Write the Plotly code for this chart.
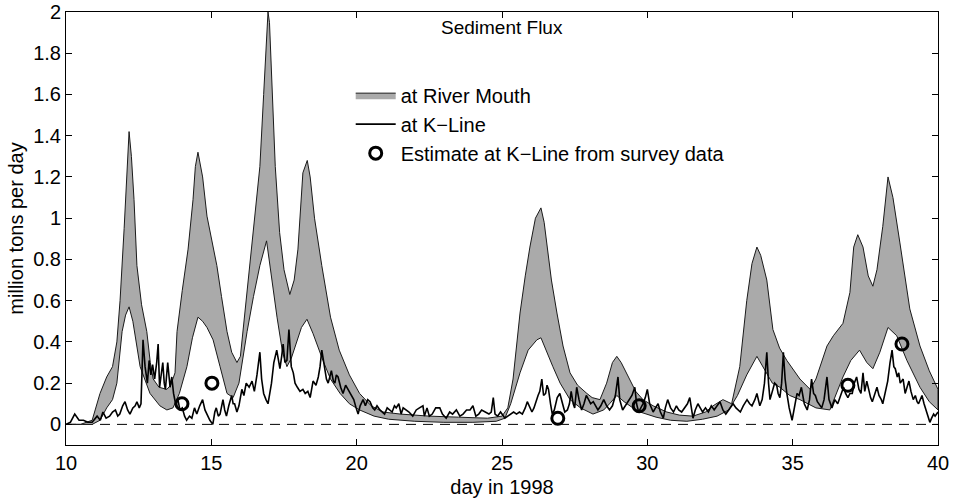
import plotly.graph_objects as go

# River mouth band: upper and lower envelopes
upper_x = [10.0, 10.5, 10.9, 11.17, 11.4, 11.6, 11.75, 11.86, 12.0, 12.1, 12.17, 12.25, 12.34, 12.44, 12.6, 12.78,
           12.9, 13.0, 13.2, 13.47, 13.6, 13.75, 13.82, 14.0, 14.2, 14.37, 14.45, 14.54, 14.6, 14.7, 14.85, 15.0,
           15.19, 15.35, 15.54, 15.7, 15.88, 16.0, 16.2, 16.43, 16.67, 16.8, 16.9, 16.95, 17.0, 17.1, 17.2, 17.35,
           17.5, 17.7, 17.85, 17.98, 18.15, 18.3, 18.4, 18.55, 18.8, 19.1, 19.4, 19.75, 20.1, 20.5, 20.9, 21.5,
           22.5, 23.5, 24.5, 25.0, 25.2, 25.38, 25.62, 25.8, 25.96, 26.15, 26.34, 26.45, 26.55, 26.7, 26.89, 27.1,
           27.34, 27.6, 27.92, 28.1, 28.37, 28.6, 28.8, 28.95, 29.1, 29.4, 29.6, 29.85, 30.2, 30.67, 31.1, 31.57,
           32.0, 32.26, 32.6, 32.9, 33.18, 33.42, 33.6, 33.77, 33.9, 34.11, 34.32, 34.55, 34.8, 35.25, 35.6, 35.8,
           36.0, 36.18, 36.4, 36.73, 36.97, 37.1, 37.24, 37.42, 37.6, 37.76, 37.9, 38.1, 38.28, 38.45, 38.69, 39.03,
           39.38, 39.7, 40.0]
upper_y = [0.0, 0.0, 0.02, 0.15, 0.23, 0.28, 0.4, 0.6, 0.95, 1.25, 1.42, 1.3, 1.09, 0.77, 0.58, 0.45,
           0.3, 0.22, 0.18, 0.17, 0.19, 0.25, 0.45, 0.65, 0.85, 1.09, 1.25, 1.32, 1.28, 1.2, 1.01, 0.9,
           0.77, 0.62, 0.45, 0.35, 0.30, 0.33, 0.6, 0.93, 1.25, 1.6, 1.9, 2.0, 1.95, 1.57, 1.25, 0.93,
           0.75, 0.63, 0.7, 0.85, 1.22, 1.28, 1.2, 1.0, 0.77, 0.52, 0.36, 0.24, 0.15, 0.09, 0.06, 0.05,
           0.04, 0.035, 0.03, 0.04, 0.08, 0.22, 0.54, 0.72, 0.86, 1.0, 1.05, 0.98, 0.86, 0.7, 0.54, 0.38,
           0.25, 0.19, 0.15, 0.13, 0.12, 0.2, 0.3, 0.33, 0.3, 0.22, 0.16, 0.12, 0.09, 0.06, 0.045, 0.04,
           0.06, 0.09, 0.12, 0.1, 0.28, 0.6, 0.78, 0.86, 0.82, 0.7, 0.46, 0.37, 0.31, 0.22, 0.17, 0.22,
           0.3, 0.38, 0.43, 0.49, 0.64, 0.86, 0.92, 0.86, 0.72, 0.67, 0.75, 0.96, 1.2, 1.1, 0.88, 0.56,
           0.38, 0.26, 0.17]

lower_x = [10.0, 10.9, 11.17, 11.4, 11.6, 11.75, 11.93, 12.05, 12.17, 12.3, 12.55, 12.89, 13.23, 13.47, 13.68,
           13.9, 14.16, 14.35, 14.54, 14.7, 14.85, 15.06, 15.3, 15.54, 15.75, 15.95, 16.23, 16.45, 16.67, 16.9,
           17.05, 17.26, 17.45, 17.6, 17.75, 17.88, 18.1, 18.29, 18.5, 18.84, 19.1, 19.43, 19.75, 20.1, 20.6,
           21.1, 22.0, 23.0, 24.0, 24.8, 25.1, 25.3, 25.62, 25.9, 26.2, 26.34, 26.5, 26.75, 27.0, 27.34, 27.7,
           28.13, 28.5, 28.7, 28.95, 29.2, 29.5, 29.75, 30.3, 30.8, 31.36, 31.9, 32.4, 32.8, 33.1, 33.42, 33.77,
           34.0, 34.3, 34.56, 34.9, 35.25, 35.8, 36.28, 36.5, 36.73, 37.0, 37.3, 37.55, 37.76, 38.0, 38.28,
           38.58, 38.93, 39.38, 39.7, 40.0]
lower_y = [0.0, 0.0, 0.02, 0.08, 0.12, 0.2, 0.45, 0.53, 0.57, 0.5, 0.28, 0.15, 0.09, 0.07, 0.08,
           0.15, 0.28, 0.42, 0.52, 0.5, 0.47, 0.41, 0.28, 0.15, 0.13, 0.2, 0.45, 0.62, 0.77, 0.89,
           0.75, 0.52, 0.35, 0.28, 0.32, 0.38, 0.47, 0.51, 0.44, 0.31, 0.22, 0.15, 0.1, 0.07, 0.04,
           0.025, 0.015, 0.01, 0.01, 0.015, 0.03, 0.1, 0.25, 0.36, 0.41, 0.42, 0.37, 0.28, 0.2, 0.12, 0.08,
           0.05, 0.07, 0.1, 0.14, 0.11, 0.08, 0.06, 0.035, 0.02, 0.015, 0.025, 0.04, 0.07, 0.14, 0.24, 0.33,
           0.27, 0.2, 0.18, 0.14, 0.12, 0.08, 0.07, 0.15, 0.23, 0.31, 0.36, 0.3, 0.27, 0.35, 0.47,
           0.43, 0.31, 0.18, 0.11, 0.07]

# Flux at K-Line
kline_x = [10.0, 10.15, 10.3, 10.45, 10.6, 10.75, 10.9, 11.07, 11.18, 11.27, 11.38, 11.5, 11.6, 11.7, 11.78, 11.85,
           11.95, 12.03, 12.12, 12.2, 12.3, 12.38, 12.44, 12.52, 12.58, 12.65, 12.72, 12.8, 12.86, 12.92, 12.98,
           13.05, 13.12, 13.17, 13.22, 13.28, 13.33, 13.38, 13.42, 13.5, 13.55, 13.58, 13.64, 13.7, 13.77, 13.85,
           13.92, 14.0, 14.08, 14.15, 14.25, 14.33, 14.42, 14.5, 14.6, 14.7, 14.78, 14.87, 14.95, 15.05, 15.12,
           15.17, 15.24, 15.3, 15.35, 15.4, 15.46, 15.52, 15.6, 15.7, 15.75, 15.8, 15.88, 15.95, 16.05, 16.12,
           16.2, 16.3, 16.4, 16.48, 16.57, 16.67, 16.73, 16.8, 16.88, 16.95, 17.07, 17.15, 17.25, 17.31, 17.36,
           17.42, 17.47, 17.53, 17.6, 17.67, 17.72, 17.75, 17.82, 17.88, 17.96, 18.05, 18.15, 18.23, 18.32, 18.4,
           18.5, 18.6, 18.68, 18.74, 18.8, 18.86, 18.9, 18.96, 19.02, 19.08, 19.13, 19.2, 19.25, 19.3, 19.36,
           19.45, 19.53, 19.62, 19.7, 19.8, 19.9, 19.98, 20.05, 20.12, 20.22, 20.3, 20.38, 20.46, 20.55, 20.62,
           20.7, 20.8, 20.9, 20.96, 21.05, 21.13, 21.22, 21.3, 21.36, 21.45, 21.53, 21.6, 21.7, 21.8, 21.93,
           22.05, 22.16, 22.28, 22.33, 22.42, 22.5, 22.6, 22.72, 22.86, 22.95, 23.08, 23.2, 23.3, 23.43, 23.55,
           23.66, 23.78, 23.9, 24.0, 24.1, 24.2, 24.3, 24.43, 24.55, 24.63, 24.7, 24.76, 24.85, 24.95, 25.1,
           25.2, 25.3, 25.4, 25.5, 25.6, 25.7, 25.8, 25.87, 25.96, 26.03, 26.1, 26.16, 26.24, 26.3, 26.37,
           26.43, 26.5, 26.55, 26.6, 26.67, 26.73, 26.8, 26.9, 26.99, 27.08, 27.16, 27.25, 27.32, 27.38, 27.45,
           27.5, 27.57, 27.65, 27.74, 27.82, 27.9, 27.98, 28.05, 28.14, 28.22, 28.3, 28.4, 28.5, 28.6, 28.7,
           28.8, 28.9, 28.99, 29.05, 29.15, 29.25, 29.37, 29.47, 29.57, 29.63, 29.7, 29.78, 29.85, 29.93, 30.0,
           30.08, 30.15, 30.2, 30.28, 30.37, 30.45, 30.55, 30.62, 30.7, 30.8, 30.9, 31.0, 31.08, 31.18, 31.28,
           31.38, 31.46, 31.52, 31.57, 31.65, 31.74, 31.82, 31.9, 32.0, 32.1, 32.2, 32.3, 32.4, 32.5, 32.6,
           32.7, 32.8, 32.95, 33.05, 33.2, 33.3, 33.43, 33.52, 33.6, 33.7, 33.77, 33.87, 33.95, 34.03, 34.11,
           34.17, 34.22, 34.3, 34.38, 34.45, 34.5, 34.56, 34.62, 34.68, 34.74, 34.8, 34.88, 34.98, 35.06, 35.15,
           35.22, 35.3, 35.4, 35.5, 35.58, 35.65, 35.72, 35.78, 35.85, 35.93, 36.0, 36.08, 36.18, 36.25, 36.35,
           36.45, 36.55, 36.65, 36.75, 36.82, 36.9, 36.97, 37.05, 37.12, 37.2, 37.28, 37.35, 37.42, 37.48, 37.55,
           37.62, 37.68, 37.74, 37.82, 37.9, 37.97, 38.05, 38.1, 38.18, 38.27, 38.35, 38.42, 38.48, 38.53, 38.6,
           38.65, 38.7, 38.8, 38.87, 38.94, 39.0, 39.07, 39.15, 39.22, 39.28, 39.33, 39.39, 39.45, 39.52, 39.6,
           39.66, 39.72, 39.78, 39.85, 39.9, 40.0]
kline_y = [0.0, 0.01, 0.05, 0.02, 0.02, 0.01, 0.01, 0.04, 0.02, 0.06, 0.03, 0.04, 0.06, 0.07, 0.04, 0.05,
           0.09, 0.11, 0.07, 0.05, 0.08, 0.09, 0.11, 0.08, 0.1, 0.41, 0.28, 0.2, 0.31, 0.24, 0.29,
           0.22, 0.3, 0.39, 0.18, 0.25, 0.3, 0.2, 0.17, 0.3, 0.2, 0.18, 0.23, 0.15, 0.1, 0.12,
           0.07, 0.08, 0.04, 0.02, 0.04, 0.03, 0.08, 0.05, 0.09, 0.12, 0.07, 0.04, 0.02, 0.0, 0.06,
           0.08, 0.04, 0.05, 0.09, 0.12, 0.07, 0.04, 0.09, 0.14, 0.1, 0.1, 0.06, 0.09, 0.17, 0.14,
           0.2, 0.18, 0.21, 0.16, 0.24, 0.35, 0.22, 0.15, 0.12, 0.1, 0.2, 0.3, 0.36, 0.3, 0.27,
           0.33, 0.39, 0.3, 0.31, 0.46, 0.32, 0.28, 0.25, 0.2, 0.18, 0.16, 0.17, 0.15, 0.16, 0.13,
           0.21, 0.19, 0.23, 0.28, 0.36, 0.3, 0.27, 0.22, 0.2, 0.24, 0.26, 0.21, 0.2, 0.24, 0.23,
           0.18, 0.15, 0.19, 0.17, 0.14, 0.12, 0.08, 0.05, 0.09, 0.12, 0.09, 0.12, 0.11, 0.08, 0.07,
           0.09, 0.07, 0.06, 0.05, 0.08, 0.07, 0.06, 0.09, 0.08, 0.1, 0.05, 0.08, 0.07, 0.06, 0.04,
           0.07, 0.08, 0.09, 0.04, 0.08, 0.04, 0.05, 0.08, 0.08, 0.05, 0.03, 0.06, 0.05, 0.07, 0.04,
           0.05, 0.07, 0.07, 0.09, 0.04, 0.05, 0.07, 0.06, 0.05, 0.06, 0.13, 0.05, 0.04, 0.06, 0.03,
           0.04, 0.05, 0.06, 0.05, 0.06, 0.05, 0.08, 0.11, 0.08, 0.06, 0.08, 0.11, 0.14, 0.16, 0.22,
           0.14, 0.15, 0.19, 0.17, 0.1, 0.05, 0.07, 0.13, 0.15, 0.1, 0.06, 0.07, 0.1, 0.16, 0.1,
           0.08, 0.18, 0.12, 0.07, 0.1, 0.14, 0.12, 0.1, 0.11, 0.09, 0.07, 0.09, 0.12, 0.09, 0.07,
           0.09, 0.14, 0.23, 0.12, 0.07, 0.09, 0.12, 0.14, 0.18, 0.1, 0.06, 0.08, 0.1, 0.13, 0.17,
           0.1, 0.07, 0.06, 0.08, 0.1, 0.06, 0.03, 0.08, 0.12, 0.08, 0.06, 0.09, 0.07, 0.06, 0.08,
           0.1, 0.13, 0.06, 0.03, 0.07, 0.1, 0.08, 0.06, 0.08, 0.06, 0.09, 0.07, 0.09, 0.11, 0.07,
           0.05, 0.07, 0.1, 0.08, 0.06, 0.09, 0.12, 0.1, 0.09, 0.12, 0.15, 0.09, 0.12, 0.2, 0.35,
           0.2, 0.12, 0.16, 0.2, 0.19, 0.15, 0.13, 0.2, 0.35, 0.22, 0.15, 0.08, 0.02, 0.08, 0.15,
           0.14, 0.18, 0.1, 0.07, 0.12, 0.22, 0.15, 0.14, 0.11, 0.09, 0.08, 0.12, 0.23, 0.12, 0.08,
           0.12, 0.1, 0.14, 0.18, 0.15, 0.13, 0.15, 0.15, 0.2, 0.23, 0.17, 0.15, 0.25, 0.16, 0.21,
           0.16, 0.13, 0.11, 0.15, 0.18, 0.14, 0.12, 0.1, 0.16, 0.21, 0.3, 0.36, 0.28, 0.27, 0.23,
           0.25, 0.2, 0.22, 0.15, 0.18, 0.21, 0.16, 0.12, 0.14, 0.11, 0.1, 0.12, 0.14, 0.1, 0.06,
           0.03, 0.01, 0.03, 0.05, 0.04, 0.06]

# Survey estimates at K-Line
est_x = [13.99, 15.02, 26.92, 29.72, 36.9, 38.76]
est_y = [0.10, 0.20, 0.03, 0.09, 0.19, 0.39]

x_ticks = [10, 15, 20, 25, 30, 35, 40]
y_ticks = [0, 0.2, 0.4, 0.6, 0.8, 1, 1.2, 1.4, 1.6, 1.8, 2]
y_tick_text = ["0", "0.2", "0.4", "0.6", "0.8", "1", "1.2", "1.4", "1.6", "1.8", "2"]

FONT = "Liberation Sans, Arial, Helvetica, sans-serif"
FS = 20

fig = go.Figure()

band_x = upper_x + lower_x[::-1]
band_y = upper_y + lower_y[::-1]
fig.add_trace(go.Scatter(
    x=band_x, y=band_y, mode="lines", fill="toself",
    fillcolor="#aaaaaa", line=dict(color="#1a1a1a", width=1),
    name="at River Mouth", hoverinfo="skip"))

fig.add_trace(go.Scatter(
    x=kline_x, y=kline_y, mode="lines",
    line=dict(color="black", width=1.6),
    name="at K\u2212Line"))

fig.add_trace(go.Scatter(
    x=est_x, y=est_y, mode="markers",
    marker=dict(symbol="circle-open", size=12, color="black", line=dict(width=3, color="black")),
    name="Estimate at K\u2212Line from survey data"))

fig.add_hline(y=0, line=dict(color="black", width=1, dash="10px,7px"), layer="below")

fig.add_annotation(x=25, y=1.927, xref="x", yref="y", text="Sediment Flux",
                   showarrow=False, font=dict(size=19, color="black", family=FONT))

axis_common = dict(showline=True, linecolor="black", linewidth=1, mirror="ticks",
                   ticks="inside", ticklen=6, tickcolor="black", showgrid=False, zeroline=False,
                   automargin=False,
                   tickfont=dict(size=FS, color="black", family=FONT))

fig.update_xaxes(range=[10, 40], tickvals=x_ticks,
                 title=dict(text="day in 1998", font=dict(size=FS, color="black", family=FONT), standoff=6),
                 **axis_common)
fig.update_yaxes(range=[-0.1, 2], tickvals=y_ticks, ticktext=y_tick_text,
                 title=dict(text="million tons per day", font=dict(size=FS, color="black", family=FONT), standoff=4),
                 **axis_common)

fig.update_layout(
    width=955, height=499,
    margin=dict(l=66, r=17, t=12, b=54, autoexpand=False),
    paper_bgcolor="white", plot_bgcolor="white",
    font=dict(family=FONT, color="black"),
    showlegend=True,
    legend=dict(x=0.3265, y=0.853, xanchor="left", yanchor="top",
                bgcolor="rgba(0,0,0,0)", borderwidth=0,
                font=dict(size=FS, color="black", family=FONT),
                itemwidth=40),
)

fig.write_html("out.html")
